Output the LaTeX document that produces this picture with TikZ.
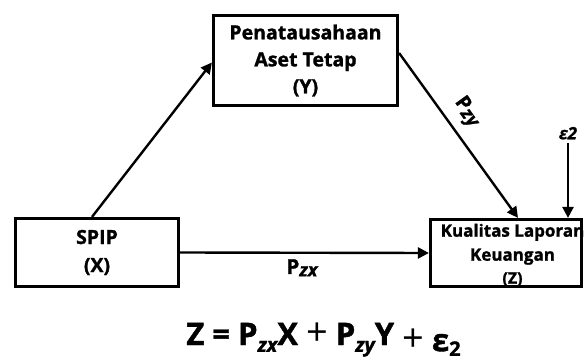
\documentclass[tikz,border=0pt]{standalone}
\usepackage{fontspec}
\setmainfont{Open Sans}[BoldFeatures={FakeBold=1.3},BoldItalicFeatures={FakeBold=1.3}]
\usetikzlibrary{arrows.meta,positioning}
\newcommand{\subtxt}[3][-0.22em]{\raisebox{#1}{\fontsize{#2}{#2}\selectfont\itshape #3}}
\newcommand{\bigplus}{{\mdseries\fontsize{38}{38}\selectfont +}}
\begin{document}
\begin{tikzpicture}[x=1pt,y=-1pt,
  box/.style={draw, line width=3.2pt, inner sep=0pt, align=center, font=\bfseries},
  txt/.style={inner sep=0pt, align=center},
  arr/.style={line width=2.4pt, -{Triangle[length=11pt,width=11pt]}}]
\useasboundingbox (0,0) rectangle (584,358);
\node[box, minimum width=184pt, minimum height=90pt, font=\bfseries\fontsize{19.5}{27}\selectfont] (Y) at (305.5,60.5) {Penatausahaan\\Aset Tetap\\(Y)};
\node[box, minimum width=163pt, minimum height=68pt, font=\bfseries\fontsize{19.5}{28}\selectfont] (X) at (97,252.5) {SPIP\\(X)};
\node[box, minimum width=151pt, minimum height=67pt] (Z) at (506,253) {};
\node[txt, font=\bfseries\fontsize{17}{24}\selectfont] (zt) at (512.5,255) {Kualitas Laporan\\Keuangan\\[-1pt]{\fontsize{16}{16}\selectfont(Z)}};
\coordinate (e) at (568,143);
\draw[arr] ([xshift=-5pt]X.north) -- ([yshift=-2pt]Y.west);
\draw[arr] ([yshift=7.5pt]Y.east) -- node[sloped, above=5pt, pos=0.43, font=\bfseries\fontsize{20}{20}\selectfont] (pzy) {P\subtxt[-0.12em]{18.5}{zy}} ([xshift=12pt]Z.north);
\draw[arr] (X.east) -- node[below=2pt, pos=0.49, font=\bfseries\fontsize{20.5}{20.5}\selectfont] (pzx) {P\subtxt[-0.12em]{18.5}{zx}} (Z.west);
\draw[arr] (e) -- ([xshift=62pt]Z.north);
\node[above=0pt of e, font=\bfseries\itshape\fontsize{17}{17}\selectfont] (eps) {ε2};
\node[anchor=base, font=\bfseries\fontsize{31}{31}\selectfont] (eq) at (323.5,345) {Z = P\subtxt{20}{zx}X \bigplus{} P\subtxt{20}{zy}Y \raisebox{-0.2em}{\bigplus{} ε\raisebox{-0.15em}{\fontsize{20}{20}\selectfont 2}}};
\end{tikzpicture}
\end{document}
